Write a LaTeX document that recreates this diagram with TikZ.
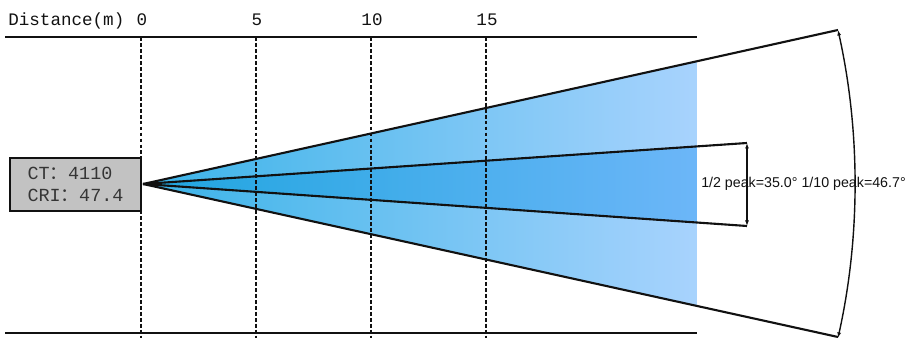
\documentclass[tikz,border=0pt]{standalone}
\usepackage{fontspec}
\setmainfont{Liberation Serif}
\setsansfont{Liberation Sans}
\setmonofont{Liberation Mono}
\newfontfamily\cjk{Noto Sans CJK SC}
\usetikzlibrary{arrows.meta,calc,positioning}
\definecolor{ink}{HTML}{111111}
\definecolor{boxgray}{HTML}{C2C2C2}
\definecolor{beamOuterL}{HTML}{3AB3E8}
\definecolor{beamOuterR}{HTML}{A8D3FD}
\definecolor{beamInnerL}{HTML}{1FA5DF}
\definecolor{beamInnerR}{HTML}{6CB6F8}
\tikzset{
  rule/.style={draw=ink,line width=0.9pt},
  gridline/.style={draw=ink,line width=0.6pt,dash pattern=on 2.2pt off 1.2pt},
  beamline/.style={draw=ink,line width=1.2pt},
  span/.style={{Latex[length=1.1mm,width=0.8mm]}-{Latex[length=1.1mm,width=0.8mm]},draw=ink,line width=0.8pt},
  axislabel/.style={font=\ttfamily\fontsize{10}{12}\selectfont,text=ink,inner sep=0pt},
  infobox/.style={draw=ink,fill=boxgray,line width=0.8pt,minimum width=2.62cm,minimum height=1.06cm,
                  align=left,inner sep=0pt,font=\ttfamily\fontsize{10.5}{13}\selectfont,text=ink!85},
  peaklabel/.style={font=\sffamily\fontsize{8.1}{10}\selectfont,text=ink,inner sep=0pt}
}
\begin{document}
\begin{tikzpicture}[x=0.02cm,y=0.02cm]
  \useasboundingbox (0,0) rectangle (910,338);
  % beam geometry
  \coordinate (src) at (143,154);
  \coordinate (outerTop) at (838,308);
  \coordinate (outerBot) at (838,1);
  \coordinate (innerTop) at (747,195);
  \coordinate (innerBot) at (747,112);
  \coordinate (fadeTop) at ($(src)!0.7971!(outerTop)$);
  \coordinate (fadeBot) at ($(src)!0.7971!(outerBot)$);
  \coordinate (fadeInTop) at ($(src)!0.9172!(innerTop)$);
  \coordinate (fadeInBot) at ($(src)!0.9172!(innerBot)$);
  \shade[left color=beamOuterL,right color=beamOuterR] (src)--(fadeTop)--(fadeBot)--cycle;
  \shade[left color=beamInnerL,right color=beamInnerR] (src)--(fadeInTop)--(fadeInBot)--cycle;
  % distance axis
  \coordinate (ruleTL) at (5,301); \coordinate (ruleTR) at (697,301);
  \coordinate (ruleBL) at (5,5);   \coordinate (ruleBR) at (697,5);
  \draw[rule] (ruleTL)--(ruleTR); \draw[rule] (ruleBL)--(ruleBR);
  \node[axislabel,anchor=base west] (dist) at (8,312) {Distance(m)};
  \foreach \d/\xx in {0/141,5/256,10/371,15/486}{
    \node[axislabel,anchor=base] (tick\d) at (\xx+1,312) {\d};
    \coordinate (gridTop\d) at (\xx,301);
    \coordinate (gridBot\d) at (\xx,0);
    \draw[gridline] (gridTop\d)--(gridBot\d);
  }
  % source box
  \node[infobox] (ctbox) at (75.5,153.5) {CT{\cjk ：}4110\\CRI{\cjk ：}47.4};
  % beam edges
  \draw[beamline] (src)--(outerTop); \draw[beamline] (src)--(outerBot);
  \draw[beamline] (src)--(innerTop); \draw[beamline] (src)--(innerBot);
  \draw[span] (innerTop)--(innerBot);
  \draw[span] (outerTop) arc[start angle=12.49,end angle=-12.49,radius=711.9];
  \node[peaklabel] (peaks) at (803.5,154) {1/2 peak=35.0° 1/10 peak=46.7°};
\end{tikzpicture}
\end{document}
